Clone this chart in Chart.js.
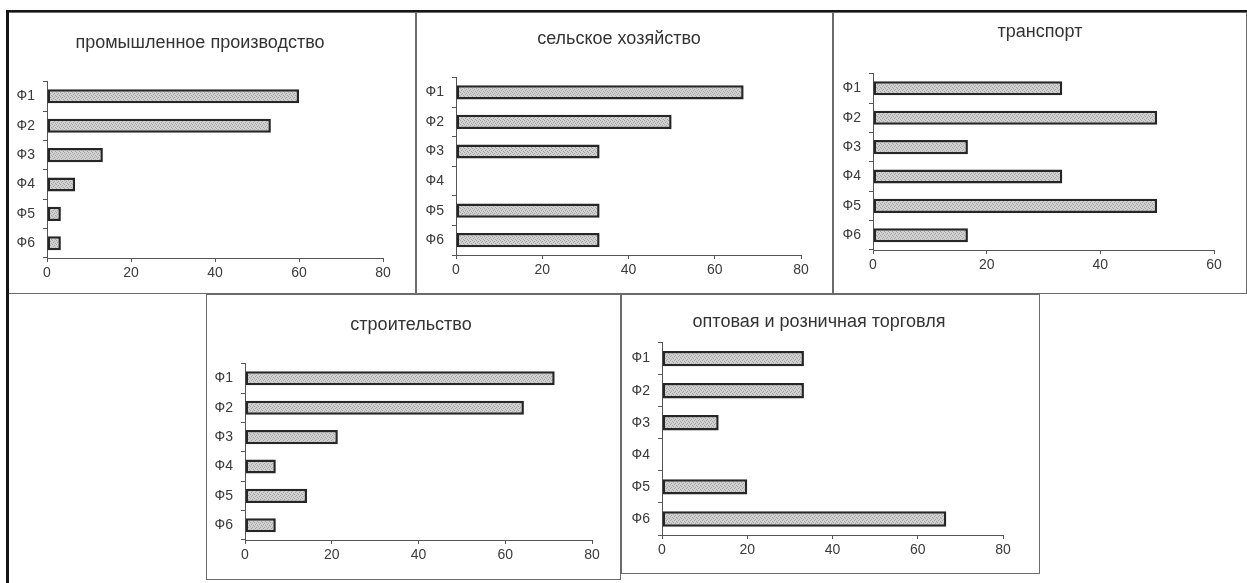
<!DOCTYPE html>
<html>
<head>
<meta charset="utf-8">
<script src="https://cdn.jsdelivr.net/npm/chart.js@4.4.1/dist/chart.umd.min.js"></script>
<style>
  html, body { margin: 0; padding: 0; background: #fff; }
  body { width: 1247px; height: 583px; position: relative; overflow: hidden; }
  canvas { position: absolute; }
  .frame { position: absolute; box-sizing: border-box; border: 1px solid #6b6b6b; pointer-events: none; }
  .edge { position: absolute; background: #151515; z-index: 2; }
</style>
</head>
<body>
<script>
// factors Ф1..Ф6, share of answers (%) per industry
const categories = ['Ф1', 'Ф2', 'Ф3', 'Ф4', 'Ф5', 'Ф6'];
const industry = [60, 53.3, 13.3, 6.7, 3.3, 3.3];
const agriculture = [66.7, 50, 33.3, 0, 33.3, 33.3];
const transport = [33.3, 50, 16.7, 33.3, 50, 16.7];
const construction = [71.4, 64.3, 21.4, 7.1, 14.3, 7.1];
const trade = [33.3, 33.3, 13.3, 0, 20, 66.7];

const titles = [
  'промышленное производство',
  'сельское хозяйство',
  'транспорт',
  'строительство',
  'оптовая и розничная торговля'
];
const axisMax = [80, 80, 60, 80, 80];
const tickStep = 20;

const series = [industry, agriculture, transport, construction, trade];

// box: [left, top, width, height]; plot: [left, right] inside the canvas
const panels = [
  { box: [8, 12, 408, 282], plot: [39, 375], xHeight: 36, titlePad: [20, 28], titleX: 192 },
  { box: [416, 12, 417, 282], plot: [40, 385], xHeight: 39, titlePad: [16, 28], titleX: 203 },
  { box: [833, 12, 414, 282], plot: [40, 381], xHeight: 44, titlePad: [9, 31], titleX: 207 },
  { box: [206, 294, 415, 286], plot: [39, 386], xHeight: 40, titlePad: [20, 28], titleX: 205 },
  { box: [621, 294, 419, 280], plot: [41, 382], xHeight: 39, titlePad: [17, 10], titleX: 198 }
];

const FONT = 'Liberation Sans, Arial, sans-serif';
const TEXT = '#3a3a3a';
const AXIS = '#555';

// fine grey stipple used for the bar fill
function stipple() {
  const c = document.createElement('canvas');
  c.width = 4; c.height = 4;
  const g = c.getContext('2d');
  g.fillStyle = '#d0d0d0';
  g.fillRect(0, 0, 4, 4);
  g.fillStyle = '#a4a4a4';
  [[0, 0], [2, 1], [1, 2], [3, 3]].forEach(([x, y]) => g.fillRect(x, y, 1, 1));
  return g.createPattern(c, 'repeat');
}

// moves the title block so its text is centred on a given x
const titleShift = {
  id: 'titleShift',
  afterLayout(chart, args, opts) {
    const t = chart.titleBlock;
    if (!t || opts.x == null) return;
    const dx = opts.x - (t.left + t.right) / 2;
    t.left += dx;
    t.right += dx;
  }
};

panels.forEach((p, i) => {
  const [left, top, w, h] = p.box;
  const canvas = document.createElement('canvas');
  canvas.width = w;
  canvas.height = h;
  canvas.style.left = left + 'px';
  canvas.style.top = top + 'px';
  document.body.appendChild(canvas);

  const frame = document.createElement('div');
  frame.className = 'frame';
  frame.style.cssText = `left:${left}px;top:${top}px;width:${w}px;height:${h}px`;
  document.body.appendChild(frame);

  const padLeft = 2;
  const padRight = w - p.plot[1];

  new Chart(canvas.getContext('2d'), {
    type: 'bar',
    plugins: [titleShift],
    data: {
      labels: categories,
      datasets: [{
        data: series[i],
        backgroundColor: stipple(),
        borderColor: '#262626',
        borderWidth: 2.5,
        borderSkipped: false,
        barPercentage: 0.48,
        categoryPercentage: 1
      }]
    },
    options: {
      indexAxis: 'y',
      responsive: false,
      animation: false,
      devicePixelRatio: 1,
      layout: { padding: { left: padLeft, right: padRight, top: 0, bottom: 0 } },
      plugins: {
        legend: { display: false },
        tooltip: { enabled: false },
        titleShift: { x: p.titleX },
        title: {
          display: true,
          text: titles[i],
          color: '#333',
          font: { family: FONT, size: 18, weight: 'normal' },
          padding: { top: p.titlePad[0], bottom: p.titlePad[1] }
        }
      },
      scales: {
        y: {
          offset: true,
          grid: { offset: true, drawOnChartArea: false, drawTicks: true, tickLength: 4, color: AXIS },
          border: { display: true, color: AXIS, width: 1 },
          ticks: { padding: 8, color: TEXT, font: { family: FONT, size: 14 } },
          afterFit: (scale) => {
            scale.width = p.plot[0] - padLeft;
            scale.paddingTop = 0;
            scale.paddingBottom = 0;
          }
        },
        x: {
          min: 0,
          max: axisMax[i],
          grid: { drawOnChartArea: false, drawTicks: true, tickLength: 4, color: AXIS },
          border: { display: true, color: AXIS, width: 1 },
          ticks: { stepSize: tickStep, padding: 3, color: TEXT, font: { family: FONT, size: 14 } },
          afterFit: (scale) => {
            scale.height = p.xHeight;
            scale.paddingLeft = 0;
            scale.paddingRight = 0;
          }
        }
      }
    }
  });
});

// heavy outer edge along the top and left of the sheet
[[6, 10, 1241, 2], [6, 10, 3, 573]].forEach(([x, y, w, h]) => {
  const d = document.createElement('div');
  d.className = 'edge';
  d.style.cssText = `left:${x}px;top:${y}px;width:${w}px;height:${h}px`;
  document.body.appendChild(d);
});
</script>
</body>
</html>
